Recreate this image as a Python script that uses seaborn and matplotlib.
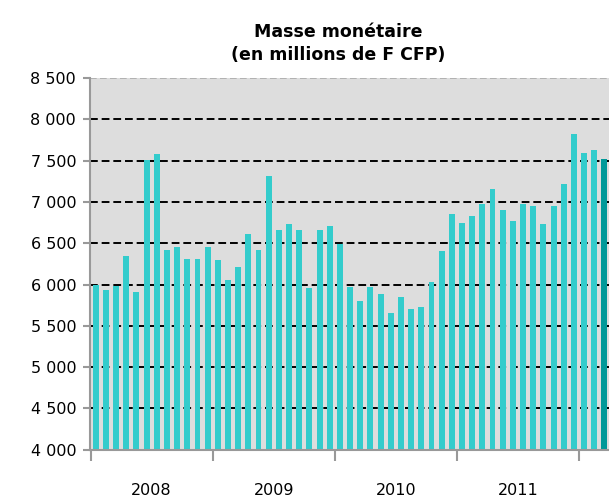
import matplotlib
matplotlib.use("Agg")
import matplotlib.pyplot as plt
from matplotlib.ticker import FixedLocator, FuncFormatter, NullFormatter
import pandas as pd
import seaborn as sns

# Masse monétaire mensuelle, janvier 2008 - mars 2012 (millions de F CFP)
annees = ["2008", "2009", "2010", "2011"]
valeurs_2008 = [6000, 5930, 5980, 6345, 5905, 7505, 7575, 6415, 6460, 6315, 6315, 6460]
valeurs_2009 = [6295, 6055, 6215, 6610, 6415, 7310, 6655, 6730, 6655, 5955, 6655, 6705]
valeurs_2010 = [6485, 5970, 5805, 5970, 5880, 5660, 5855, 5710, 5730, 6025, 6410, 6850]
valeurs_2011 = [6750, 6825, 6970, 7160, 6900, 6775, 6980, 6955, 6735, 6955, 7220, 7820]
valeurs_2012 = [7590, 7625, 7515]

valeurs = valeurs_2008 + valeurs_2009 + valeurs_2010 + valeurs_2011 + valeurs_2012
mois = [f"{2008 + i // 12}-{i % 12 + 1:02d}" for i in range(len(valeurs))]
df = pd.DataFrame({"mois": mois, "valeur": valeurs})

sns.set_style("white")
plt.rcParams["font.family"] = ["DejaVu Sans"]
plt.rcParams["text.color"] = "black"
plt.rcParams["xtick.labelcolor"] = "black"
plt.rcParams["ytick.labelcolor"] = "black"

fig = plt.figure(figsize=(6.09, 4.97), dpi=100)
ax = fig.add_axes([0.148, 0.095, 0.852, 0.748])

ax = sns.barplot(data=df, x="mois", y="valeur", color="#33CCCC",
                 saturation=1, width=0.58, linewidth=0, ax=ax)
# dernier mois mis en évidence
ax.patches[-1].set_facecolor("#009999")

ax.set_facecolor("#DDDDDD")
ax.set_xlim(-0.55, len(valeurs) - 0.55)
ax.set_ylim(4000, 8500)

# grille horizontale
ax.set_yticks(range(4000, 8501, 500))
ax.yaxis.set_major_formatter(FuncFormatter(lambda v, p: f"{v:,.0f}".replace(",", " ")))
for y in range(4500, 8001, 500):
    ax.axhline(y, color="black", linestyle=(0, (4, 2)), linewidth=1.4, zorder=0.5)
ax.axhline(8500, color="#AAAAAA", linestyle=(0, (4, 2)), linewidth=1.2, zorder=0.5)
ax.set_axisbelow(True)

# axe des x : graduations entre les années, libellés au milieu
ax.xaxis.set_major_locator(FixedLocator([-0.5, 11.5, 23.5, 35.5, 47.5]))
ax.xaxis.set_major_formatter(NullFormatter())
ax.xaxis.set_minor_locator(FixedLocator([5.5, 17.5, 29.5, 41.5]))
ax.set_xticklabels(annees, minor=True)
ax.tick_params(axis="x", which="major", length=8, width=1.5, color="#999999", direction="out")
ax.tick_params(axis="x", which="minor", length=0, pad=24, labelsize=11.5)
ax.tick_params(axis="y", length=5, width=1.5, color="#999999", direction="out", labelsize=11.5, pad=5)
ax.xaxis.set_ticks_position("bottom")
ax.yaxis.set_ticks_position("left")

for s in ["top", "right"]:
    ax.spines[s].set_visible(False)
for s in ["left", "bottom"]:
    ax.spines[s].set_color("#999999")
    ax.spines[s].set_linewidth(1.5)

ax.set_xlabel("")
ax.set_ylabel("")
fig.text(0.555, 0.912, "Masse monétaire\n(en millions de F CFP)", ha="center", va="center",
         fontsize=12.5, fontweight="bold", linespacing=1.35)

fig.savefig("out.png", dpi=100)
